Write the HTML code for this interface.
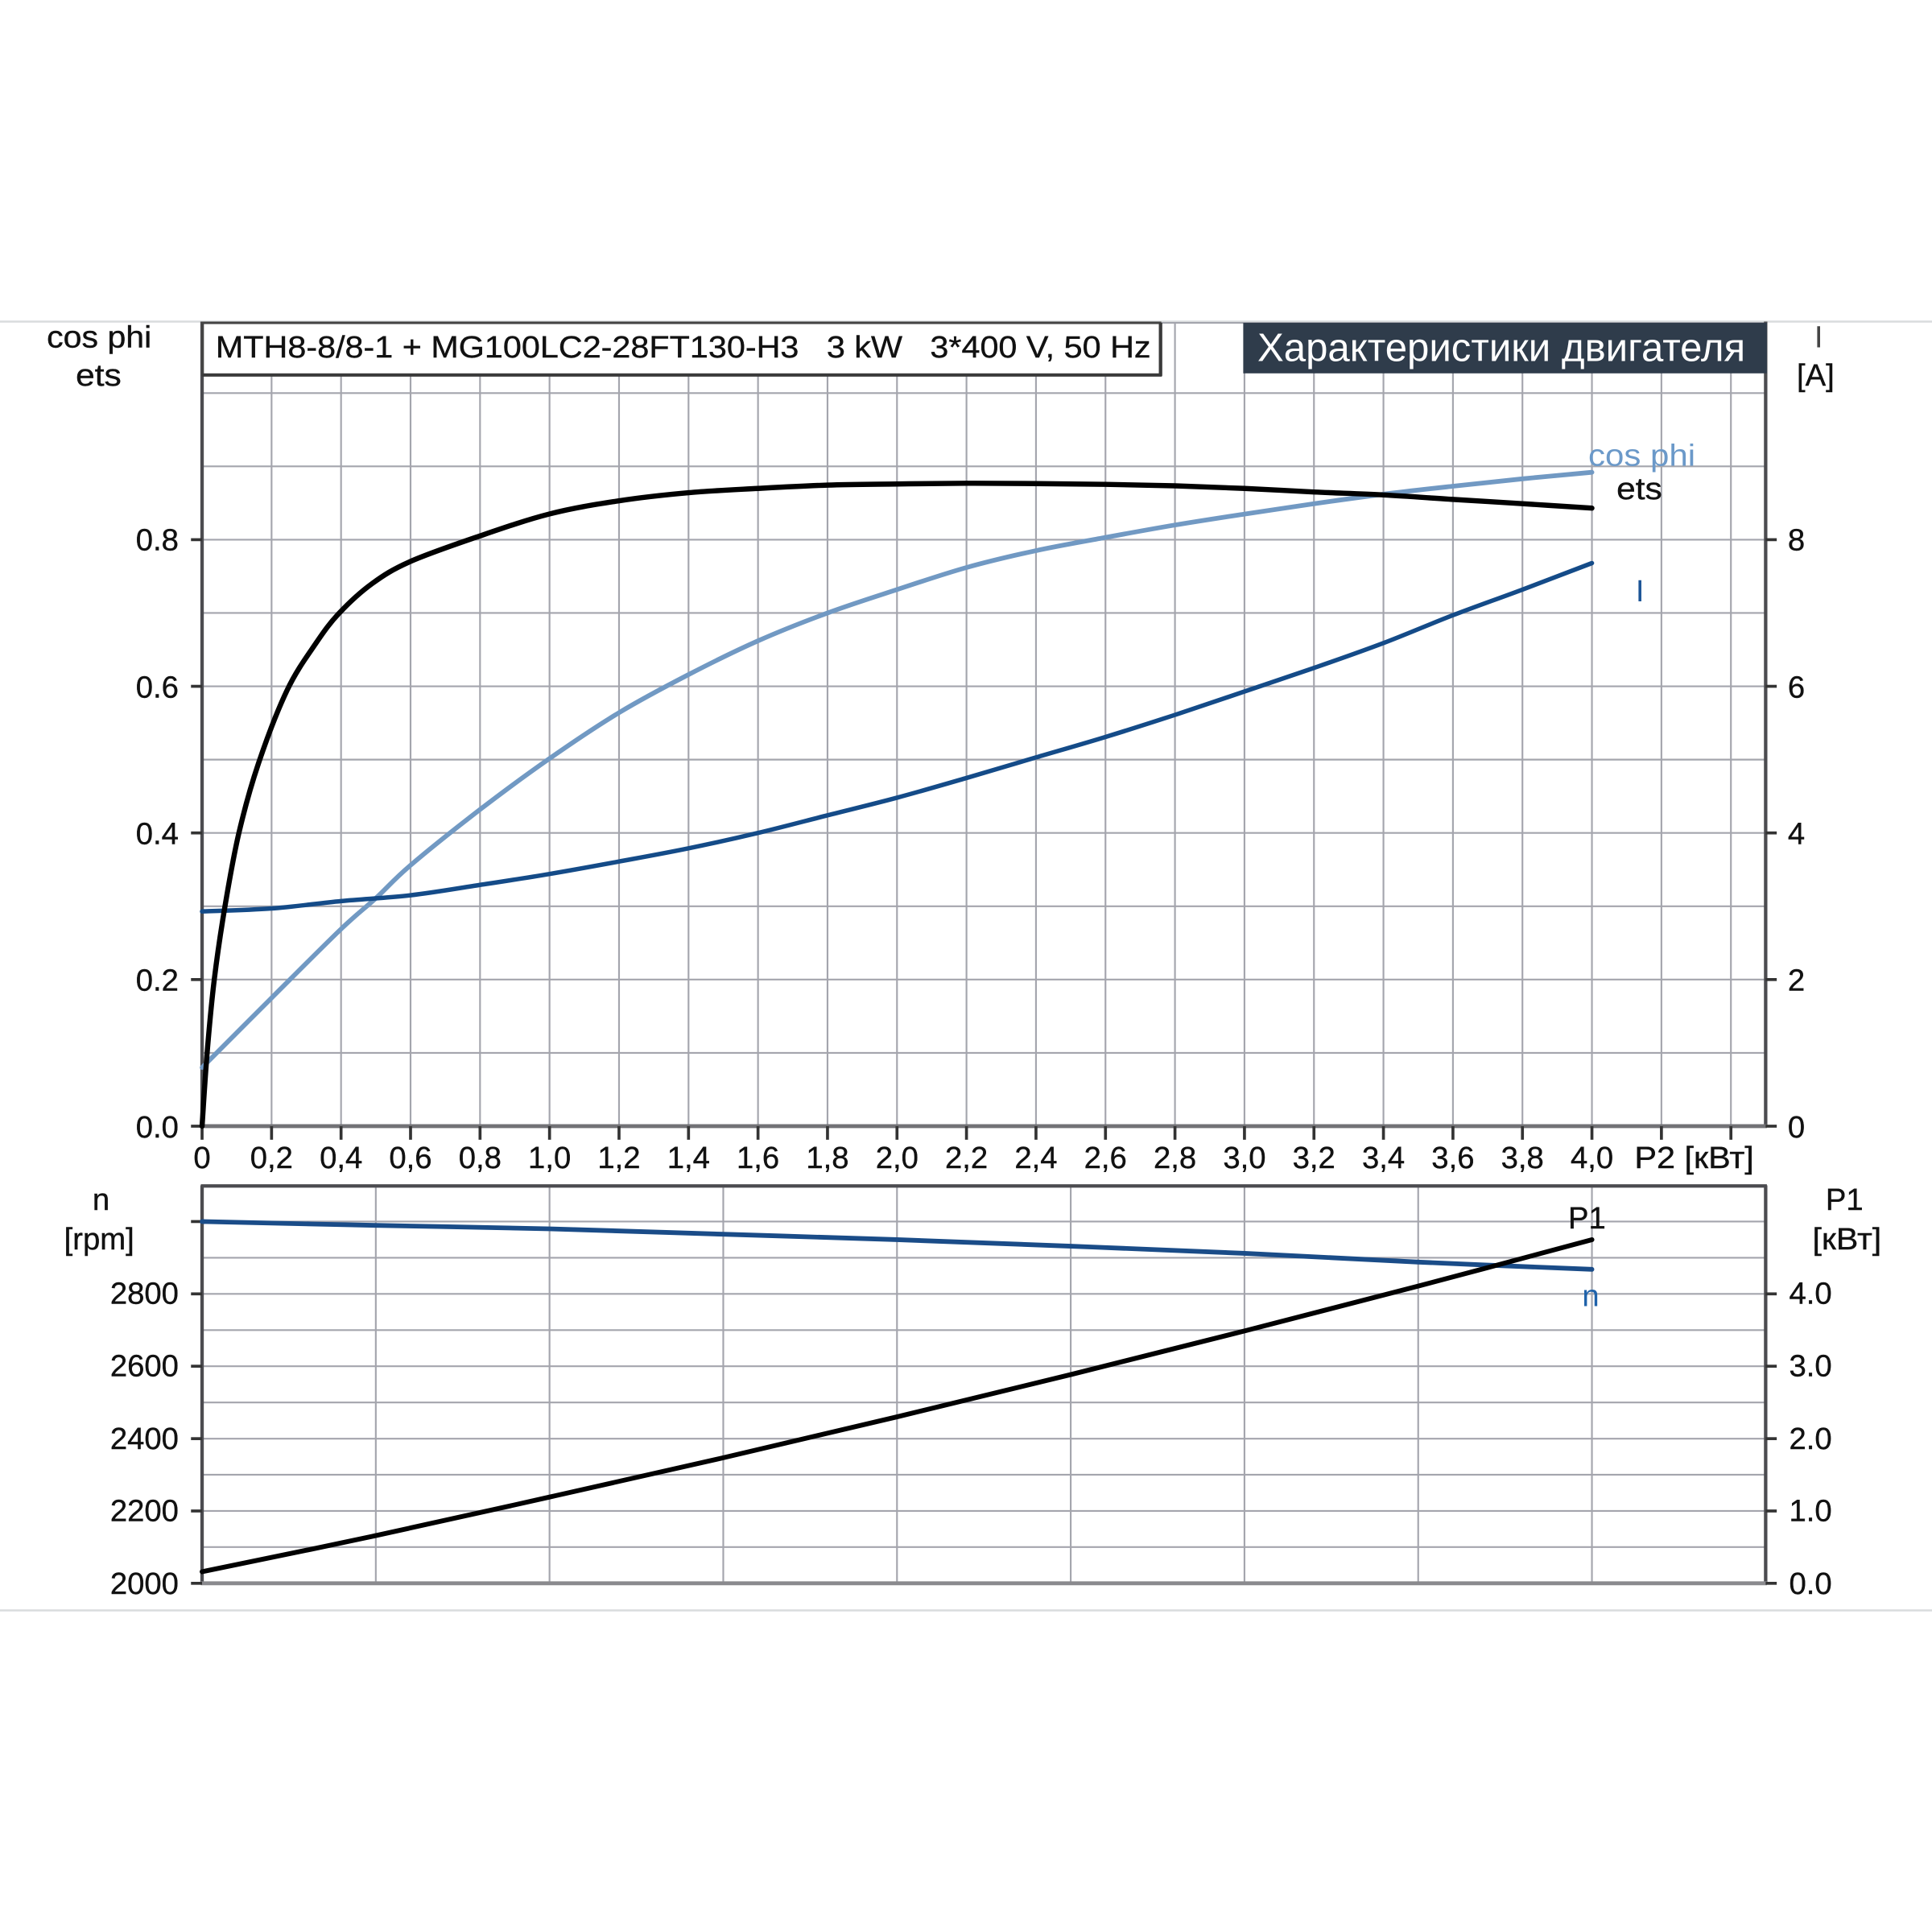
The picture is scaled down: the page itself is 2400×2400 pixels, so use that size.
<!DOCTYPE html>
<html><head><meta charset="utf-8"><style>
html,body{margin:0;padding:0;background:#fff;}
svg{display:block;}
text{font-family:"Liberation Sans",Arial,sans-serif;}
</style></head><body>
<svg id="chart" xmlns="http://www.w3.org/2000/svg" width="2400" height="2400" viewBox="0 0 1568 1568">
<rect x="0" y="0" width="1568" height="1568" fill="#fff"/>
<line x1="0" y1="261" x2="1568" y2="261" stroke="#d9dcdd" stroke-width="1.6"/>
<line x1="0" y1="1307" x2="1568" y2="1307" stroke="#d9dcdd" stroke-width="1.6"/>

<!-- TOP CHART GRID -->
<g stroke="#a4a5ad" stroke-width="1.4">
<line x1="220.4" y1="262" x2="220.4" y2="914"/><line x1="276.8" y1="262" x2="276.8" y2="914"/>
<line x1="333.2" y1="262" x2="333.2" y2="914"/><line x1="389.6" y1="262" x2="389.6" y2="914"/>
<line x1="446" y1="262" x2="446" y2="914"/><line x1="502.4" y1="262" x2="502.4" y2="914"/>
<line x1="558.8" y1="262" x2="558.8" y2="914"/><line x1="615.2" y1="262" x2="615.2" y2="914"/>
<line x1="671.6" y1="262" x2="671.6" y2="914"/><line x1="728" y1="262" x2="728" y2="914"/>
<line x1="784.4" y1="262" x2="784.4" y2="914"/><line x1="840.8" y1="262" x2="840.8" y2="914"/>
<line x1="897.2" y1="262" x2="897.2" y2="914"/><line x1="953.6" y1="262" x2="953.6" y2="914"/>
<line x1="1010" y1="262" x2="1010" y2="914"/><line x1="1066.4" y1="262" x2="1066.4" y2="914"/>
<line x1="1122.8" y1="262" x2="1122.8" y2="914"/><line x1="1179.2" y1="262" x2="1179.2" y2="914"/>
<line x1="1235.6" y1="262" x2="1235.6" y2="914"/><line x1="1292" y1="262" x2="1292" y2="914"/>
<line x1="1348.4" y1="262" x2="1348.4" y2="914"/><line x1="1404.8" y1="262" x2="1404.8" y2="914"/>
<line x1="164" y1="854.5" x2="1433" y2="854.5"/><line x1="164" y1="795" x2="1433" y2="795"/>
<line x1="164" y1="735.5" x2="1433" y2="735.5"/><line x1="164" y1="676" x2="1433" y2="676"/>
<line x1="164" y1="616.5" x2="1433" y2="616.5"/><line x1="164" y1="557" x2="1433" y2="557"/>
<line x1="164" y1="497.5" x2="1433" y2="497.5"/><line x1="164" y1="438" x2="1433" y2="438"/>
<line x1="164" y1="378.5" x2="1433" y2="378.5"/><line x1="164" y1="319" x2="1433" y2="319"/>
<line x1="164" y1="262" x2="1433" y2="262"/>
</g>

<line x1="164" y1="261" x2="164" y2="915" stroke="#4c4c50" stroke-width="2.8"/>
<line x1="1433" y1="261" x2="1433" y2="915" stroke="#4c4c50" stroke-width="2.8"/>
<line x1="163" y1="914" x2="1434" y2="914" stroke="#727276" stroke-width="3.2"/>

<g stroke="#333" stroke-width="2.4">
<line x1="155" y1="914" x2="164" y2="914"/><line x1="155" y1="795" x2="164" y2="795"/>
<line x1="155" y1="676" x2="164" y2="676"/><line x1="155" y1="557" x2="164" y2="557"/>
<line x1="155" y1="438" x2="164" y2="438"/>
<line x1="1433" y1="914" x2="1442" y2="914"/><line x1="1433" y1="795" x2="1442" y2="795"/>
<line x1="1433" y1="676" x2="1442" y2="676"/><line x1="1433" y1="557" x2="1442" y2="557"/>
<line x1="1433" y1="438" x2="1442" y2="438"/>
<line x1="164" y1="914" x2="164" y2="925"/><line x1="220.4" y1="914" x2="220.4" y2="925"/>
<line x1="276.8" y1="914" x2="276.8" y2="925"/><line x1="333.2" y1="914" x2="333.2" y2="925"/>
<line x1="389.6" y1="914" x2="389.6" y2="925"/><line x1="446" y1="914" x2="446" y2="925"/>
<line x1="502.4" y1="914" x2="502.4" y2="925"/><line x1="558.8" y1="914" x2="558.8" y2="925"/>
<line x1="615.2" y1="914" x2="615.2" y2="925"/><line x1="671.6" y1="914" x2="671.6" y2="925"/>
<line x1="728" y1="914" x2="728" y2="925"/><line x1="784.4" y1="914" x2="784.4" y2="925"/>
<line x1="840.8" y1="914" x2="840.8" y2="925"/><line x1="897.2" y1="914" x2="897.2" y2="925"/>
<line x1="953.6" y1="914" x2="953.6" y2="925"/><line x1="1010" y1="914" x2="1010" y2="925"/>
<line x1="1066.4" y1="914" x2="1066.4" y2="925"/><line x1="1122.8" y1="914" x2="1122.8" y2="925"/>
<line x1="1179.2" y1="914" x2="1179.2" y2="925"/><line x1="1235.6" y1="914" x2="1235.6" y2="925"/>
<line x1="1292" y1="914" x2="1292" y2="925"/><line x1="1348.4" y1="914" x2="1348.4" y2="925"/>
<line x1="1404.8" y1="914" x2="1404.8" y2="925"/>
</g>

<rect x="164.5" y="262" width="777" height="42" fill="#fff" stroke="#444" stroke-width="2"/>
<line x1="942" y1="262" x2="942" y2="305" stroke="#3a3a3a" stroke-width="2.6"/>
<line x1="164" y1="304.5" x2="943" y2="304.5" stroke="#3a3a3a" stroke-width="2.4"/>
<text x="175" y="290" font-size="25" fill="#111" stroke="#111" stroke-width="0.25" textLength="759" lengthAdjust="spacingAndGlyphs" xml:space="preserve">MTH8-8/8-1 + MG100LC2-28FT130-H3   3 kW   3*400 V, 50 Hz</text>
<rect x="1009" y="262" width="425" height="41" fill="#2f3c4b"/>
<text x="1020.5" y="293" font-size="32" fill="#fff" textLength="396" lengthAdjust="spacingAndGlyphs">Характеристики двигателя</text>

<polyline class="smooth" fill="none" stroke="#7199c3" stroke-width="3.8" stroke-linejoin="round" stroke-linecap="round" points="164,866.4 220.4,809.9 276.8,754 305,729 333.2,702.2 389.6,657 446,615.6 502.4,578.4 558.8,547.5 615.2,520.1 671.6,497.5 728,478.5 784.4,460.6 840.8,446.9 897.2,436.2 953.6,426.1 1010,417.2 1066.4,408.8 1122.8,401.1 1179.2,394.6 1235.6,388.6 1292,383.3"/>
<polyline class="smooth" fill="none" stroke="#144b88" stroke-width="3.6" stroke-linejoin="round" stroke-linecap="round" points="164,739.7 220.4,737.3 276.8,731.3 333.2,726.6 389.6,718.2 446,709.3 502.4,699.2 558.8,688.5 615.2,676 671.6,661.7 728,647.4 784.4,631.4 840.8,614.7 897.2,598.1 953.6,580.2 1010,561.2 1066.4,542.1 1122.8,521.9 1179.2,499.3 1235.6,478.5 1292,457"/>
<polyline class="smooth" fill="none" stroke="#000" stroke-width="4.2" stroke-linejoin="round" stroke-linecap="round" points="164,914 168.1,854.5 173.9,795 182.6,735.5 193.9,676 209.8,619.5 233.1,560 256.5,521.9 275.4,497.5 301.9,473.7 332.6,455.9 386.5,436 445.7,417.2 502.1,406.5 558.8,399.9 615.2,396.4 671.6,393.7 728,392.8 784.4,392.2 840.8,392.5 897.2,393.1 953.6,394.3 1010,396.4 1066.4,399.3 1122.8,401.7 1179.2,405.3 1235.6,408.8 1292,412.4"/>

<g font-size="25" fill="#111" stroke="#111" stroke-width="0.25">
<text x="38" y="282" textLength="85" lengthAdjust="spacingAndGlyphs">cos phi</text>
<text x="61.5" y="313" textLength="37" lengthAdjust="spacingAndGlyphs">ets</text>
<g text-anchor="end">
<text x="145" y="446.5">0.8</text><text x="145" y="566">0.6</text>
<text x="145" y="685">0.4</text><text x="145" y="804">0.2</text>
<text x="145" y="923">0.0</text>
</g>
<text x="1451" y="446.5">8</text><text x="1451" y="566">6</text>
<text x="1451" y="685">4</text><text x="1451" y="804">2</text>
<text x="1451" y="923">0</text>
<text x="1476" y="282" text-anchor="middle" fill="#444" stroke="none">I</text>
<text x="1473.5" y="313" text-anchor="middle">[A]</text>
<g text-anchor="middle">
<text x="164" y="948">0</text><text x="220.4" y="948">0,2</text>
<text x="276.8" y="948">0,4</text><text x="333.2" y="948">0,6</text>
<text x="389.6" y="948">0,8</text><text x="446" y="948">1,0</text>
<text x="502.4" y="948">1,2</text><text x="558.8" y="948">1,4</text>
<text x="615.2" y="948">1,6</text><text x="671.6" y="948">1,8</text>
<text x="728" y="948">2,0</text><text x="784.4" y="948">2,2</text>
<text x="840.8" y="948">2,4</text><text x="897.2" y="948">2,6</text>
<text x="953.6" y="948">2,8</text><text x="1010" y="948">3,0</text>
<text x="1066.4" y="948">3,2</text><text x="1122.8" y="948">3,4</text>
<text x="1179.2" y="948">3,6</text><text x="1235.6" y="948">3,8</text>
<text x="1292" y="948">4,0</text>
</g>
<text x="1326.5" y="948" textLength="97" lengthAdjust="spacingAndGlyphs">P2 [кВт]</text>
<text x="1289" y="378" fill="#6b99c9" stroke="none" textLength="87" lengthAdjust="spacingAndGlyphs">cos phi</text>
<text x="1312" y="405" textLength="37" lengthAdjust="spacingAndGlyphs">ets</text>
<text x="1331" y="488" fill="#1d5597" stroke="none" text-anchor="middle">I</text>
</g>

<!-- BOTTOM CHART GRID -->
<g stroke="#a4a5ad" stroke-width="1.4">
<line x1="305" y1="962" x2="305" y2="1285"/><line x1="446" y1="962" x2="446" y2="1285"/>
<line x1="587" y1="962" x2="587" y2="1285"/><line x1="728" y1="962" x2="728" y2="1285"/>
<line x1="869" y1="962" x2="869" y2="1285"/><line x1="1010" y1="962" x2="1010" y2="1285"/>
<line x1="1151" y1="962" x2="1151" y2="1285"/><line x1="1292" y1="962" x2="1292" y2="1285"/>
<line x1="164" y1="1255.6" x2="1433" y2="1255.6"/><line x1="164" y1="1226.3" x2="1433" y2="1226.3"/>
<line x1="164" y1="1196.9" x2="1433" y2="1196.9"/><line x1="164" y1="1167.6" x2="1433" y2="1167.6"/>
<line x1="164" y1="1138.2" x2="1433" y2="1138.2"/><line x1="164" y1="1108.8" x2="1433" y2="1108.8"/>
<line x1="164" y1="1079.5" x2="1433" y2="1079.5"/><line x1="164" y1="1050.1" x2="1433" y2="1050.1"/>
<line x1="164" y1="1020.8" x2="1433" y2="1020.8"/><line x1="164" y1="991.4" x2="1433" y2="991.4"/>
</g>
<line x1="163" y1="962.5" x2="1434" y2="962.5" stroke="#4c4c50" stroke-width="2.8"/>
<line x1="164" y1="962" x2="164" y2="1286" stroke="#4c4c50" stroke-width="2.8"/>
<line x1="1433" y1="962" x2="1433" y2="1286" stroke="#4c4c50" stroke-width="2.8"/>
<line x1="163" y1="1285" x2="1434" y2="1285" stroke="#8a8a8e" stroke-width="3.2"/>

<g stroke="#333" stroke-width="2.4">
<line x1="155" y1="991.4" x2="164" y2="991.4"/><line x1="155" y1="1050.1" x2="164" y2="1050.1"/>
<line x1="155" y1="1108.8" x2="164" y2="1108.8"/><line x1="155" y1="1167.6" x2="164" y2="1167.6"/>
<line x1="155" y1="1226.3" x2="164" y2="1226.3"/><line x1="155" y1="1285" x2="164" y2="1285"/>
<line x1="1433" y1="1050.1" x2="1442" y2="1050.1"/><line x1="1433" y1="1108.8" x2="1442" y2="1108.8"/>
<line x1="1433" y1="1167.6" x2="1442" y2="1167.6"/><line x1="1433" y1="1226.3" x2="1442" y2="1226.3"/>
<line x1="1433" y1="1285" x2="1442" y2="1285"/>
</g>

<polyline class="smooth" fill="none" stroke="#1a4c88" stroke-width="3.8" stroke-linejoin="round" stroke-linecap="round" points="164,991.4 305,994.5 446,997.3 587,1001.7 728,1006.1 869,1011.4 1010,1017.2 1151,1024.3 1292,1030.2"/>
<polyline class="smooth" fill="none" stroke="#000" stroke-width="3.9" stroke-linejoin="round" stroke-linecap="round" points="164,1275.6 305,1246.3 446,1215 587,1183.1 728,1149.9 869,1115.6 1010,1080.2 1151,1043.8 1292,1006.1"/>

<g font-size="25" fill="#111" stroke="#111" stroke-width="0.25">
<text x="82" y="982" text-anchor="middle">n</text>
<text x="52" y="1014" textLength="57" lengthAdjust="spacingAndGlyphs">[rpm]</text>
<g text-anchor="end">
<text x="145" y="1058">2800</text><text x="145" y="1117">2600</text>
<text x="145" y="1176">2400</text><text x="145" y="1234.5">2200</text>
<text x="145" y="1293.5">2000</text>
</g>
<text x="1452" y="1058">4.0</text><text x="1452" y="1117">3.0</text>
<text x="1452" y="1176">2.0</text><text x="1452" y="1234.5">1.0</text>
<text x="1452" y="1293.5">0.0</text>
<text x="1497" y="982" text-anchor="middle">P1</text>
<text x="1471" y="1014" textLength="56" lengthAdjust="spacingAndGlyphs">[кВт]</text>
<text x="1288" y="997" text-anchor="middle">P1</text>
<text x="1291" y="1060" text-anchor="middle" fill="#1f62aa" stroke="none">n</text>
</g>
</svg>
<script>
(function(){
  var NS="http://www.w3.org/2000/svg";
  var pls=document.querySelectorAll("polyline.smooth");
  for(var i=0;i<pls.length;i++){
    var pl=pls[i];
    var raw=pl.getAttribute("points").trim().split(/\s+/).map(function(s){var a=s.split(",");return [parseFloat(a[0]),parseFloat(a[1])];});
    if(raw.length<3)continue;
    var d="M"+raw[0][0]+","+raw[0][1];
    for(var k=0;k<raw.length-1;k++){
      var p0=raw[k>0?k-1:0],p1=raw[k],p2=raw[k+1],p3=raw[k+2<raw.length?k+2:raw.length-1];
      var t=6;
      var c1x=p1[0]+(p2[0]-p0[0])/t,c1y=p1[1]+(p2[1]-p0[1])/t;
      var c2x=p2[0]-(p3[0]-p1[0])/t,c2y=p2[1]-(p3[1]-p1[1])/t;
      d+=" C"+c1x.toFixed(2)+","+c1y.toFixed(2)+" "+c2x.toFixed(2)+","+c2y.toFixed(2)+" "+p2[0]+","+p2[1];
    }
    var p=document.createElementNS(NS,"path");
    p.setAttribute("d",d);
    ["fill","stroke","stroke-width","stroke-linejoin","stroke-linecap"].forEach(function(a){p.setAttribute(a,pl.getAttribute(a));});
    pl.parentNode.replaceChild(p,pl);
  }
})();
</script>
</body></html>
